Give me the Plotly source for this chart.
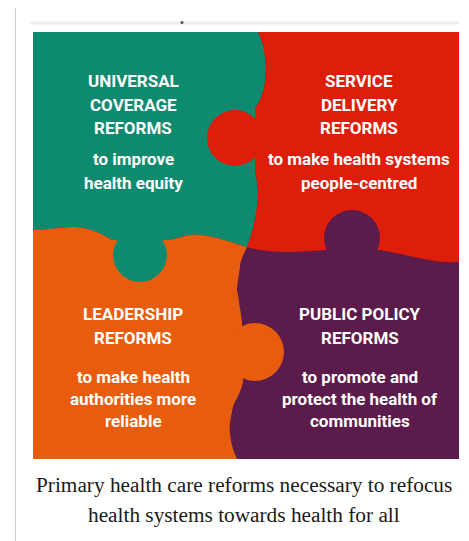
import plotly.graph_objects as go

W, H = 469, 541
PAGE_OFFSET = 8  # default page margin of the html body

# ---- content ----
pieces = ["universal", "service", "leadership", "public"]
piece_colors = {
    "universal": "#0e8a6e",
    "service": "#dc1e0a",
    "leadership": "#e85c0e",
    "public": "#5b1b4b",
}
headers = {
    "universal": ["UNIVERSAL", "COVERAGE", "REFORMS"],
    "service": ["SERVICE", "DELIVERY", "REFORMS"],
    "leadership": ["LEADERSHIP", "REFORMS"],
    "public": ["PUBLIC POLICY", "REFORMS"],
}
bodies = {
    "universal": ["to improve", "health equity"],
    "service": ["to make health systems", "people-centred"],
    "leadership": ["to make health", "authorities more", "reliable"],
    "public": ["to promote and", "protect the health of", "communities"],
}
caption_lines = [
    "Primary health care reforms necessary to refocus",
    "health systems towards health for all",
]

# ---- layout of the diagram (page pixel space) ----
text_x = {"universal": 133, "service": 359, "leadership": 133, "public": 360}
header_y = {"universal": [81, 104.5, 128], "service": [81, 104.5, 128],
            "leadership": [314, 338], "public": [314, 338]}
body_y = {"universal": [159, 183], "service": [159, 183],
          "leadership": [377, 399, 421], "public": [377, 399, 421]}
caption_y = [485, 515]

board = (33, 32, 459, 459)

teal_path = ("M 33 32 L 258 32 C 268 50 270 90 255 108 L 255 170 "
             "C 256 175 258 185 258 195 C 257 215 252 235 247 247 "
             "C 225 240 205 233 190 235 C 180 237 172 240 168 240 L 112 240 "
             "C 100 232 85 226 70 227 C 55 228 45 230 33 230 Z")
orange_path = ("M 33 230 C 45 230 55 228 70 227 C 85 226 100 232 112 240 L 168 240 "
               "C 172 240 180 237 190 235 C 205 233 225 240 247 247 "
               "C 243 255 240 262 240 267 C 238 280 237 285 237 290 "
               "C 239 300 241 315 242 322 L 243 382 C 240 395 235 400 233 407 "
               "C 230 420 229 430 230 433 C 231 445 234 452 237 459 L 33 459 Z")
red_path = ("M 258 32 L 459 32 L 459 262 C 435 264 405 254 380 250 L 325 250 "
            "C 300 252 270 254 247 247 C 252 235 257 215 258 195 "
            "C 258 185 256 175 255 170 L 255 108 C 270 90 268 50 258 32 Z")
# knobs: (owner piece, cx, cy, r)
knobs = [
    ("service", 235, 138, 28),
    ("universal", 140, 255, 27),
    ("public", 352, 238, 28),
    ("leadership", 255, 352, 29),
]

fig = go.Figure()
fig.add_trace(go.Scatter(x=[PAGE_OFFSET, W], y=[PAGE_OFFSET, H], mode="markers",
                         marker=dict(opacity=0), hoverinfo="skip", showlegend=False))

shapes = []
# outer frame
shapes.append(dict(type="line", x0=15.5, y0=7.5, x1=W + PAGE_OFFSET, y1=7.5,
                   line=dict(color="#cfcfcf", width=1)))
shapes.append(dict(type="line", x0=15.5, y0=7.5, x1=15.5, y1=H + PAGE_OFFSET,
                   line=dict(color="#cfcfcf", width=1)))
# faint strip above board
shapes.append(dict(type="rect", x0=30, y0=21.5, x1=459, y1=24.5,
                   fillcolor="#eeeeee", line=dict(width=0)))
shapes.append(dict(type="circle", x0=180.5, y0=21, x1=183.5, y1=24,
                   fillcolor="#555555", line=dict(width=0)))
# board base (public policy piece)
shapes.append(dict(type="rect", x0=board[0], y0=board[1], x1=board[2], y1=board[3],
                   fillcolor=piece_colors["public"], line=dict(width=0)))
for p, path in [("universal", teal_path), ("leadership", orange_path), ("service", red_path)]:
    shapes.append(dict(type="path", path=path, fillcolor=piece_colors[p],
                       line=dict(width=0)))
for owner, cx, cy, r in knobs:
    shapes.append(dict(type="circle", x0=cx - r, y0=cy - r, x1=cx + r, y1=cy + r,
                       fillcolor=piece_colors[owner], line=dict(width=0)))

puzzle_font = dict(family="Roboto, Liberation Sans, sans-serif", size=17, color="white")
annotations = []
for p in pieces:
    for t, y in zip(headers[p], header_y[p]):
        annotations.append(dict(x=text_x[p], y=y, text="<b>" + t + "</b>", showarrow=False,
                                xanchor="center", yanchor="middle", font=puzzle_font))
    for t, y in zip(bodies[p], body_y[p]):
        annotations.append(dict(x=text_x[p], y=y, text="<b>" + t + "</b>", showarrow=False,
                                xanchor="center", yanchor="middle", font=puzzle_font))
for t, y in zip(caption_lines, caption_y):
    annotations.append(dict(x=244, y=y, text=t, showarrow=False, xanchor="center",
                            yanchor="middle",
                            font=dict(family="Liberation Serif, Times New Roman, serif",
                                      size=21.3, color="#1a1a1a")))

fig.update_layout(
    width=W, height=H, margin=dict(l=0, r=0, t=0, b=0),
    paper_bgcolor="white", plot_bgcolor="white",
    xaxis=dict(range=[PAGE_OFFSET, W + PAGE_OFFSET], visible=False, fixedrange=True),
    yaxis=dict(range=[H + PAGE_OFFSET, PAGE_OFFSET], visible=False, fixedrange=True),
    shapes=shapes, annotations=annotations, showlegend=False,
)
fig.write_html("out.html")
